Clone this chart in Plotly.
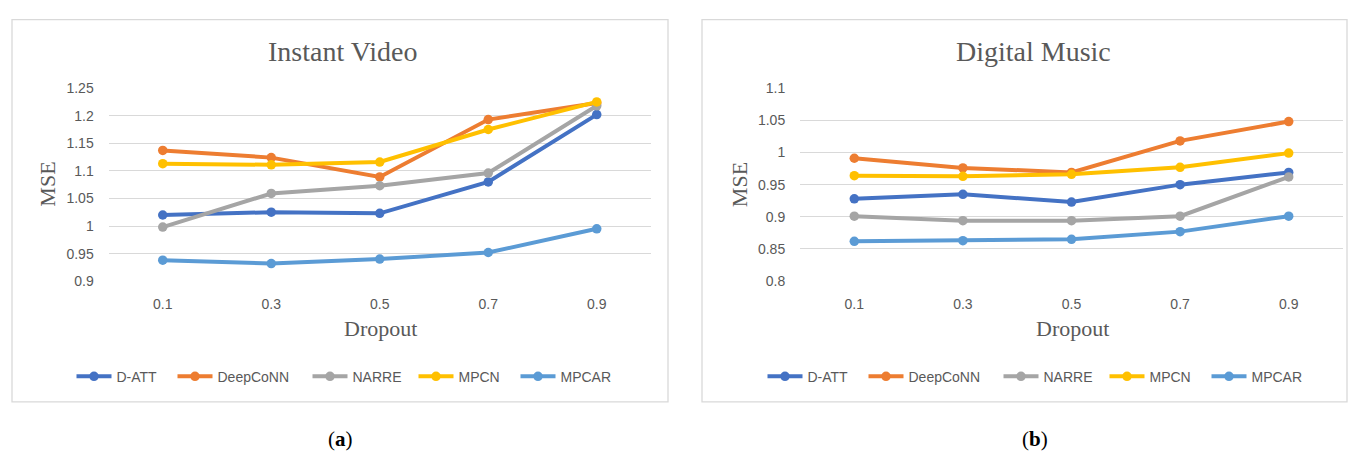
import plotly.graph_objects as go

dropout = ["0.1", "0.3", "0.5", "0.7", "0.9"]
series_names = ["D-ATT", "DeepCoNN", "NARRE", "MPCN", "MPCAR"]
colors = ["#4472C4", "#ED7D31", "#A5A5A5", "#FFC000", "#5B9BD5"]

# Instant Video (a)
video_datt = [1.020, 1.025, 1.023, 1.080, 1.202]
video_deepconn = [1.137, 1.124, 1.089, 1.193, 1.223]
video_narre = [0.998, 1.059, 1.073, 1.096, 1.218]
video_mpcn = [1.113, 1.111, 1.116, 1.175, 1.225]
video_mpcar = [0.938, 0.932, 0.940, 0.952, 0.995]

# Digital Music (b)
music_datt = [0.928, 0.935, 0.923, 0.950, 0.969]
music_deepconn = [0.991, 0.976, 0.969, 1.018, 1.048]
music_narre = [0.901, 0.894, 0.894, 0.901, 0.962]
music_mpcn = [0.964, 0.963, 0.966, 0.977, 0.999]
music_mpcar = [0.862, 0.863, 0.865, 0.877, 0.901]

video_vals = [video_datt, video_deepconn, video_narre, video_mpcn, video_mpcar]
music_vals = [music_datt, music_deepconn, music_narre, music_mpcn, music_mpcar]

legend_widths = [51, 85, 56, 52, 55]

W, H = 1351, 461
def px(x):
    return x / W
def py(y):
    return 1 - y / H

fig = go.Figure()
for name, col, vals, lw in zip(series_names, colors, video_vals, legend_widths):
    fig.add_trace(go.Scatter(x=dropout, y=vals, name=name, mode="lines+markers",
                             line=dict(color=col, width=4), marker=dict(color=col, size=9.5),
                             legendwidth=lw, xaxis="x", yaxis="y", legend="legend"))
for name, col, vals, lw in zip(series_names, colors, music_vals, legend_widths):
    fig.add_trace(go.Scatter(x=dropout, y=vals, name=name, mode="lines+markers",
                             line=dict(color=col, width=4), marker=dict(color=col, size=9.5),
                             legendwidth=lw, xaxis="x2", yaxis="y2", legend="legend2"))

sans = "Liberation Sans, Arial, sans-serif"
serif = "Liberation Serif, Times New Roman, serif"
tickfont = dict(family=sans, size=14, color="#595959")
titlefont = dict(family=serif, size=22, color="#595959")

common_x = dict(type="category", range=[-0.5, 4.5], showgrid=False, showline=False, zeroline=False,
                tickfont=tickfont, ticks="outside", ticklen=10, tickcolor="rgba(0,0,0,0)",
                fixedrange=True)
common_y = dict(showgrid=True, gridcolor="#D9D9D9", gridwidth=1.3, zeroline=False, showline=False,
                tickfont=tickfont, ticks="outside", ticklen=11, tickcolor="rgba(0,0,0,0)",
                fixedrange=True)

legend_common = dict(orientation="h", xanchor="left", yanchor="middle", itemwidth=35,
                     font=dict(family=sans, size=14, color="#595959"),
                     bgcolor="rgba(0,0,0,0)", itemclick=False, itemdoubleclick=False)

def ann(text, x, y, font, **kw):
    return dict(text=text, xref="paper", yref="paper", x=px(x), y=py(y),
                xanchor="center", yanchor="middle", showarrow=False, font=font, **kw)

fig.update_layout(
    width=W, height=H, margin=dict(l=0, r=0, t=0, b=0),
    paper_bgcolor="white", plot_bgcolor="white", showlegend=True,
    xaxis=dict(common_x, domain=[px(108.5), px(651)], anchor="y"),
    yaxis=dict(common_y, domain=[py(283), py(83)], range=[0.9, 1.25],
               tickvals=[0.9, 0.95, 1.0, 1.05, 1.1, 1.15, 1.2, 1.25],
               ticktext=["0.9", "0.95", "1", "1.05", "1.1", "1.15", "1.2", "1.25"], anchor="x"),
    xaxis2=dict(common_x, domain=[px(800), px(1343)], anchor="y2"),
    yaxis2=dict(common_y, domain=[py(283), py(83)], range=[0.8, 1.1],
                tickvals=[0.8, 0.85, 0.9, 0.95, 1.0, 1.05, 1.1],
                ticktext=["0.8", "0.85", "0.9", "0.95", "1", "1.05", "1.1"], anchor="x2"),
    legend=dict(legend_common, x=px(71.5), y=py(382)),
    legend2=dict(legend_common, x=px(762.5), y=py(382)),
    shapes=[
        dict(type="rect", xref="paper", yref="paper", x0=px(12), x1=px(668), y0=py(408), y1=py(12),
             line=dict(color="#D9D9D9", width=1.3), fillcolor="rgba(0,0,0,0)", layer="below"),
        dict(type="rect", xref="paper", yref="paper", x0=px(702), x1=px(1347), y0=py(408), y1=py(12),
             line=dict(color="#D9D9D9", width=1.3), fillcolor="rgba(0,0,0,0)", layer="below"),
    ],
    annotations=[
        ann("Instant Video", 342, 45, dict(family=serif, size=28, color="#595959")),
        ann("Digital Music", 1033.5, 45, dict(family=serif, size=28, color="#595959")),
        ann("MSE", 48, 183, titlefont, textangle=-90),
        ann("MSE", 739.5, 183, titlefont, textangle=-90),
        ann("Dropout", 380, 332, titlefont),
        ann("Dropout", 1072.5, 332, titlefont),
        ann("(<b>a</b>)", 340.5, 447, dict(family=serif, size=21, color="black")),
        ann("(<b>b</b>)", 1035, 447, dict(family=serif, size=21, color="black")),
    ],
)

# remove the default page margin so the figure sits at the window's top-left corner
fig.write_html("out.html", config={"displayModeBar": False},
               post_script="document.body.style.margin='0';")
